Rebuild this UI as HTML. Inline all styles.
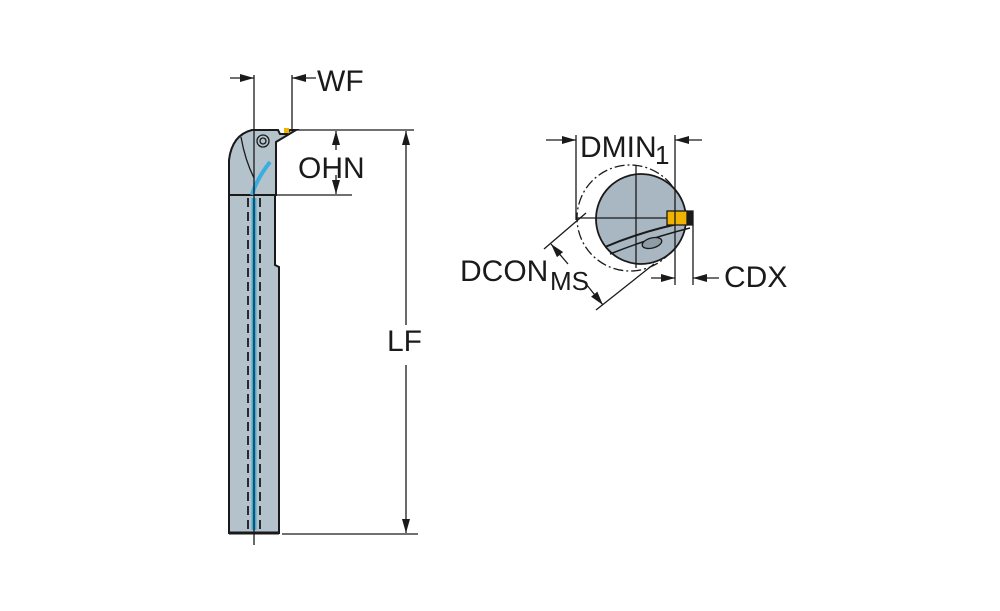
<!DOCTYPE html>
<html><head><style>body{margin:0;background:#fff}svg{display:block}text{font-family:"Liberation Sans",sans-serif;fill:#1a1a1a}</style></head><body>
<svg width="1000" height="611" viewBox="0 0 1000 611">
<defs><marker id="a" markerWidth="14" markerHeight="8" refX="14" refY="4" orient="auto" markerUnits="userSpaceOnUse"><path d="M0,0L14,4L0,8z" fill="#1a1a1a"/></marker></defs>
<g stroke="#1a1a1a" stroke-width="1.3" fill="none">
<path d="M229,195 L275,195 L275,265 L279,267 L279,533 L229,533 Z" fill="#b4c2cc" stroke-width="2"/>
<path d="M229,195 L229,160 Q232,135 252,130 L278,130 L280,134 L286,134 L290,130 L296,130 L276,142 L276,195 Z" fill="#b4c2cc" stroke-width="2"/>
<circle cx="263" cy="141" r="6" fill="#b4c2cc"/><circle cx="263" cy="141" r="3"/>
<path d="M241,137 Q245,160 254,178"/>
<path d="M252,195 Q256,180 270,162" stroke="#3aaee0" stroke-width="4"/>
<line x1="254" y1="198" x2="254" y2="530" stroke="#3aaee0" stroke-width="5"/>
<line x1="254" y1="75" x2="254" y2="545"/>
<line x1="248" y1="198" x2="248" y2="530" stroke-dasharray="9,5" stroke-width="1.8"/>
<line x1="260" y1="198" x2="260" y2="530" stroke-dasharray="9,5" stroke-width="1.8"/>
<line x1="229" y1="533" x2="279" y2="533" stroke-width="3"/>
<rect x="284" y="128" width="5" height="5" fill="#f0b400" stroke="none"/>
<line x1="292" y1="75" x2="292" y2="130"/>
<line x1="230" y1="78" x2="254" y2="78" marker-end="url(#a)"/>
<line x1="316" y1="78" x2="292" y2="78" marker-end="url(#a)"/>
<line x1="292" y1="130" x2="414" y2="130"/>
<line x1="276" y1="195" x2="352" y2="195"/>
<line x1="336" y1="150" x2="336" y2="131" marker-end="url(#a)"/>
<line x1="336" y1="175" x2="336" y2="194" marker-end="url(#a)"/>
<line x1="282" y1="534" x2="418" y2="534"/>
<line x1="406" y1="325" x2="406" y2="131" marker-end="url(#a)"/>
<line x1="406" y1="365" x2="406" y2="533" marker-end="url(#a)"/>
<circle cx="630" cy="218" r="53" stroke-dasharray="10,3,2,3"/>
<circle cx="641" cy="219" r="45" fill="#a9b7c2" stroke-width="1.8"/>
<path d="M605,247 Q645,230 688,222" stroke-width="2"/>
<path d="M610,254 Q650,238 690,228" stroke-width="1.5"/>
<ellipse cx="652" cy="243" rx="10" ry="5" transform="rotate(-15 652 243)" fill="#8e9ca6"/>
<line x1="636" y1="165" x2="636" y2="268"/>
<line x1="576" y1="218" x2="690" y2="218"/>
<rect x="667" y="211" width="20" height="14" fill="#f0b400"/>
<path d="M687,211 L693,211 L693,225 L687,225" fill="#1a1a1a"/>
<line x1="576" y1="135" x2="576" y2="220"/>
<line x1="675" y1="135" x2="675" y2="285"/>
<line x1="693" y1="225" x2="693" y2="285"/>
<line x1="546" y1="140" x2="576" y2="140" marker-end="url(#a)"/>
<line x1="702" y1="140" x2="675" y2="140" marker-end="url(#a)"/>
<line x1="651" y1="278" x2="675" y2="278" marker-end="url(#a)"/>
<line x1="719" y1="278" x2="693" y2="278" marker-end="url(#a)"/>
<line x1="586" y1="213" x2="544" y2="249"/>
<line x1="654" y1="264" x2="596" y2="310"/>
<line x1="568" y1="264" x2="551" y2="244" marker-end="url(#a)"/>
<line x1="586" y1="284" x2="603" y2="305" marker-end="url(#a)"/>
</g>
<text x="317" y="91" font-size="30">WF</text>
<text x="298" y="178" font-size="30">OHN</text>
<text x="387" y="351" font-size="30">LF</text>
<text x="580" y="157" font-size="30">DMIN</text>
<text x="655" y="164" font-size="26">1</text>
<text x="724" y="287" font-size="30">CDX</text>
<text x="460" y="281" font-size="30">DCON</text>
<text x="550" y="290" font-size="26">MS</text>
</svg>
</body></html>
